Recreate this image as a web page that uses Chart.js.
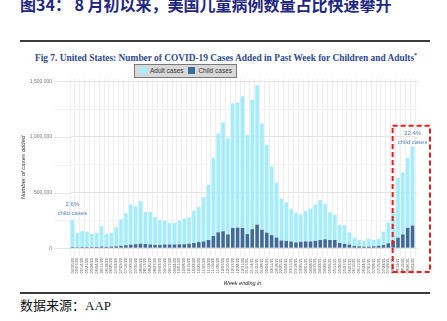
<!DOCTYPE html>
<html>
<head>
<meta charset="utf-8">
<title>COVID-19 weekly cases</title>
<script src="https://cdn.jsdelivr.net/npm/chart.js@4.4.0/dist/chart.umd.min.js"></script>
<style>
  html, body { margin: 0; padding: 0; background: #fff; }
  #page { position: relative; width: 447px; height: 321px; overflow: hidden; }
  .head { position: absolute; left: 20px; top: -4px; font: bold 16px/16px "Noto Sans CJK SC"; color: #1e2680; white-space: nowrap; }
  .rule { position: absolute; left: 20px; width: 410px; height: 2px; background: #3a3a3a; }
  .fig { position: absolute; left: 35px; top: 49px; font: bold 9.4px/12px "Liberation Serif"; color: #2d4b8c; white-space: nowrap; }
  .fig sup { font-size: 6px; }
  .legend { position: absolute; left: 134px; top: 64px; width: 101px; height: 12px; background: #d8d8d8; border: 1px solid #7a7a7a;
            font: 6.5px/12px "Liberation Sans"; color: #333; white-space: nowrap; z-index: 2; }
  .legend span.sw { display: inline-block; width: 7px; height: 7px; vertical-align: -1px; margin-right: 3px; }
  .src { position: absolute; left: 20px; top: 297px; font: 13px/16px "Noto Sans CJK SC"; color: #111; white-space: nowrap; }
  .src b { font: 13px "Liberation Serif"; font-weight: normal; }
  #wrap { position: absolute; left: 0; top: 58px; width: 447px; height: 232px; }
</style>
</head>
<body>
<div id="page">
  <div class="head">图34：&nbsp;8 月初以来，美国儿童病例数量占比快速攀升</div>
  <div class="rule" style="top:40px"></div>
  <div class="fig">Fig 7. United States: Number of COVID-19 Cases Added in Past Week for Children and Adults<sup>*</sup></div>
  <div class="legend">
    <span style="margin-left:5px" class="sw" id="swAdult"></span>Adult cases
    <span style="margin-left:3px" class="sw" id="swChild"></span>Child cases
  </div>
  <div id="wrap"><canvas id="casesChart"></canvas></div>
  <div class="rule" style="top:292px"></div>
  <div class="src">数据来源：<b>AAP</b></div>
</div>

<script>
// week ending dates
const weeks = [
  '04/30/20', '05/07/20', '05/14/20', '05/21/20', '05/28/20', '06/04/20', '06/11/20', '06/18/20', '06/25/20',
  '07/02/20', '07/09/20', '07/16/20', '07/23/20', '07/30/20', '08/06/20', '08/13/20', '08/20/20', '08/27/20',
  '09/03/20', '09/10/20', '09/17/20', '09/24/20', '10/01/20', '10/08/20', '10/15/20', '10/22/20', '10/29/20',
  '11/05/20', '11/12/20', '11/19/20', '11/26/20', '12/03/20', '12/10/20', '12/17/20', '12/24/20', '12/31/20',
  '01/07/21', '01/14/21', '01/21/21', '01/28/21', '02/04/21', '02/11/21', '02/18/21', '02/25/21', '03/04/21',
  '03/11/21', '03/18/21', '03/25/21', '04/01/21', '04/08/21', '04/15/21', '04/22/21', '04/29/21', '05/06/21',
  '05/13/21', '05/20/21', '05/27/21', '06/03/21', '06/10/21', '06/17/21', '06/24/21', '07/01/21', '07/08/21',
  '07/15/21', '07/22/21', '07/29/21', '08/05/21', '08/12/21', '08/19/21', '08/26/21', '09/02/21'
];

// cases added in the week (stacked: child at the bottom, adult on top)
const adultCases = [
  243000, 129000, 144000, 139000, 117000, 127000, 184000, 115000, 124000,
  170000, 237000, 287000, 359000, 339000, 384000, 287000, 291000, 251000,
  223000, 215000, 193000, 193000, 213000, 231000, 235000, 289000, 314000,
  399000, 496000, 700000, 887000, 978000, 866000, 1118000, 1123000, 1182000,
  890000, 1162000, 1253000, 956000, 788000, 617000, 493000, 377000, 347000,
  294000, 265000, 245000, 275000, 294000, 325000, 359000, 317000, 248000,
  226000, 160000, 165000, 110000, 75000, 57000, 52000, 69000, 57000,
  61000, 121000, 187000, 262000, 537000, 556000, 628000, 711000
];
const childCases = [
  10000, 9000, 10000, 10000, 10000, 11000, 14000, 12000, 14000,
  17000, 22000, 27000, 32000, 36000, 40000, 38000, 34000, 30000,
  30000, 33000, 33000, 33000, 35000, 36000, 40000, 47000, 55000,
  61000, 74000, 110000, 143000, 152000, 124000, 182000, 185000, 182000,
  127000, 171000, 212000, 165000, 140000, 118000, 96000, 69000, 66000,
  61000, 52000, 58000, 61000, 61000, 66000, 74000, 80000, 74000,
  74000, 47000, 39000, 33000, 19000, 17000, 14000, 14000, 17000,
  22000, 28000, 44000, 66000, 94000, 124000, 182000, 204000
];

const yTicks = [0, 250000, 500000, 750000, 1000000, 1250000, 1500000];
const yLabelled = [0, 500000, 1000000, 1500000];

// callouts: [category index, text lines, y value of first line]
const notes = [
  { at: 0, lines: ['2.6%', 'child cases'], y: 390000 },
  { at: 70, lines: ['22.4%', 'child cases'], y: 1030000 }
];
const highlightFrom = 66;   // first week inside the red box

const adultColor = '#a2eefc';
const childColor = '#3f6b97';
document.getElementById('swAdult').style.background = adultColor;
document.getElementById('swChild').style.background = childColor;

// grid lines stretch a bit past the bars, like the original panel
const panelGrid = {
  id: 'panelGrid',
  beforeDatasetsDraw(chart) {
    const { ctx, chartArea, scales: { y } } = chart;
    ctx.save();
    yTicks.forEach(v => {
      const py = Math.round(y.getPixelForValue(v)) + 0.5;
      ctx.strokeStyle = v % 500000 === 0 ? '#e4e4e4' : '#f1f1f1';
      ctx.lineWidth = 1;
      ctx.beginPath();
      ctx.moveTo(54, py);
      ctx.lineTo(chartArea.left, py);
      ctx.moveTo(chartArea.right, py);
      ctx.lineTo(chartArea.right + 3, py);
      ctx.stroke();
    });
    ctx.restore();
  }
};

const callouts = {
  id: 'callouts',
  afterDraw(chart) {
    const { ctx, chartArea, scales: { x, y } } = chart;
    ctx.save();
    ctx.fillStyle = '#5b84b3';
    ctx.font = '6px "Liberation Sans"';
    ctx.textAlign = 'center';
    ctx.textBaseline = 'middle';
    notes.forEach(n => {
      const px = x.getPixelForValue(n.at);
      const py = y.getPixelForValue(n.y);
      n.lines.forEach((t, i) => ctx.fillText(t, px, py + i * 9));
    });

    // red dashed box round the latest weeks
    const left = x.getPixelForValue(highlightFrom) - 0.5;
    const right = chartArea.right + 15;
    const top = y.getPixelForValue(1100000);
    const bottom = chartArea.bottom + 16;
    ctx.strokeStyle = '#ee1b1b';
    ctx.lineWidth = 2;
    ctx.setLineDash([5, 3]);
    ctx.strokeRect(left, top, right - left, bottom - top);
    ctx.restore();
  }
};

new Chart(document.getElementById('casesChart'), {
  type: 'bar',
  data: {
    labels: weeks,
    datasets: [
      {
        label: 'Child cases',
        data: childCases,
        backgroundColor: childColor,
        barPercentage: 0.74,
        categoryPercentage: 1
      },
      {
        label: 'Adult cases',
        data: adultCases,
        backgroundColor: adultColor,
        barPercentage: 0.74,
        categoryPercentage: 1
      }
    ]
  },
  options: {
    responsive: true,
    maintainAspectRatio: false,
    animation: false,
    layout: { padding: { left: 20, right: 32, top: 5, bottom: 3 } },
    plugins: {
      legend: { display: false },
      tooltip: { enabled: false }
    },
    scales: {
      x: {
        stacked: true,
        afterFit: s => { s.height = 31; },
        grid: { color: '#eeeeee', drawTicks: false },
        border: { display: false },
        ticks: {
          autoSkip: false,
          minRotation: 90,
          maxRotation: 90,
          padding: 2,
          color: '#555',
          font: { family: 'Liberation Sans', size: 4 }
        },
        title: {
          display: true,
          text: 'Week ending in',
          color: '#222',
          padding: 0,
          font: { family: 'Liberation Sans', size: 5.5, style: 'italic' }
        }
      },
      y: {
        stacked: true,
        min: -70000,
        max: 1520000,
        afterFit: s => { s.width = 50; },
        afterBuildTicks: s => { s.ticks = yTicks.map(v => ({ value: v })); },
        grid: {
          drawTicks: false,
          color: c => (c.tick && c.tick.value % 500000 === 0) ? '#e4e4e4' : '#f1f1f1'
        },
        border: { display: false },
        ticks: {
          padding: 18,
          color: '#777',
          font: { family: 'Liberation Sans', size: 5 },
          callback: v => yLabelled.includes(v) ? v.toLocaleString('en-US') : ''
        },
        title: {
          display: true,
          text: 'Number of cases added',
          color: '#333',
          padding: 0,
          font: { family: 'Liberation Sans', size: 6, style: 'italic' }
        }
      }
    }
  },
  plugins: [panelGrid, callouts]
});
</script>
</body>
</html>
